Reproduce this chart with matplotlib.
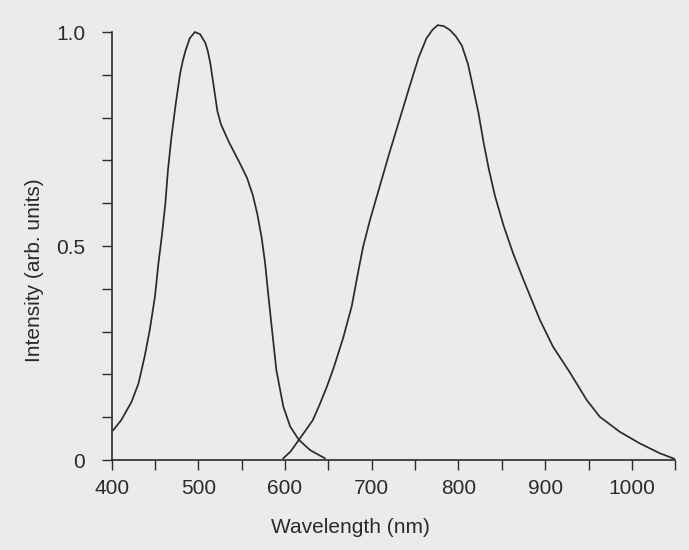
import numpy as np
import matplotlib
matplotlib.use("Agg")
import matplotlib.pyplot as plt
from matplotlib.ticker import MultipleLocator

# absorption band (left curve)
abs_wl = [402, 411, 423, 431, 438, 444, 450, 454, 458, 462, 465, 469, 474, 479,
          482, 485, 490, 496, 502, 508, 511, 514, 518, 522, 526, 531, 536, 548,
          556, 563, 568, 573, 577, 581, 585, 590, 598, 606, 616, 629, 646]
abs_int = [0.070, 0.093, 0.136, 0.179, 0.241, 0.304, 0.382, 0.460, 0.525, 0.600,
           0.678, 0.755, 0.833, 0.903, 0.932, 0.955, 0.985, 1.000, 0.995, 0.975,
           0.955, 0.925, 0.870, 0.815, 0.785, 0.762, 0.740, 0.693, 0.660, 0.618,
           0.575, 0.520, 0.460, 0.380, 0.304, 0.210, 0.125, 0.078, 0.047, 0.023,
           0.004]

# emission band (right curve)
em_wl = [598, 606, 616, 632, 640, 648, 656, 667, 677, 684, 690, 698, 710, 720,
         732, 744, 754, 763, 770, 776, 783, 790, 797, 804, 811, 815, 823, 829,
         835, 842, 852, 863, 875, 894, 909, 929, 948, 963, 986, 1009, 1032, 1050]
em_int = [0.004, 0.019, 0.047, 0.093, 0.130, 0.170, 0.215, 0.285, 0.360, 0.436,
          0.498, 0.561, 0.645, 0.715, 0.795, 0.875, 0.940, 0.985, 1.005, 1.016,
          1.014, 1.005, 0.990, 0.968, 0.925, 0.888, 0.812, 0.742, 0.680, 0.618,
          0.548, 0.483, 0.421, 0.327, 0.265, 0.203, 0.140, 0.101, 0.066, 0.039,
          0.016, 0.002]

x_ticks = [400, 500, 600, 700, 800, 900, 1000]
y_ticks = [0, 0.5, 1.0]
y_labels = ["0", "0.5", "1.0"]

paper = "#ecebe9"
ink = "#2a2a2a"

plt.rcParams["font.family"] = ["Liberation Sans", "DejaVu Sans"]

fig = plt.figure(figsize=(6.89, 5.5), dpi=100, facecolor=paper)
ax = fig.add_axes([0.162, 0.1636, 0.818, 0.8015], facecolor=paper)

ax.plot(abs_wl, abs_int, color=ink, lw=1.25, solid_joinstyle="round")
ax.plot(em_wl, em_int, color=ink, lw=1.25, solid_joinstyle="round")

ax.set_xlim(400, 1050)
ax.set_ylim(0, 1.03)

for side in ("top", "right"):
    ax.spines[side].set_visible(False)
for side in ("left", "bottom"):
    ax.spines[side].set_color(ink)
    ax.spines[side].set_linewidth(1.2)
ax.spines["left"].set_bounds(0, 1.0)

ax.set_xticks(x_ticks)
ax.xaxis.set_minor_locator(MultipleLocator(50))
ax.set_yticks(y_ticks)
ax.set_yticklabels(y_labels)
ax.yaxis.set_minor_locator(MultipleLocator(0.1))

ax.tick_params(axis="both", which="both", direction="out", length=7,
               width=1.0, color=ink, labelcolor=ink, labelsize=15)
ax.tick_params(axis="x", which="major", pad=7)
ax.tick_params(axis="y", which="major", pad=12)

ax.set_xlabel("Wavelength (nm)", fontsize=15, color=ink, x=0.423, labelpad=14)
ax.set_ylabel("Intensity (arb. units)", fontsize=15, color=ink, y=0.431, labelpad=9)

fig.savefig("out.png", dpi=100, facecolor=paper)
